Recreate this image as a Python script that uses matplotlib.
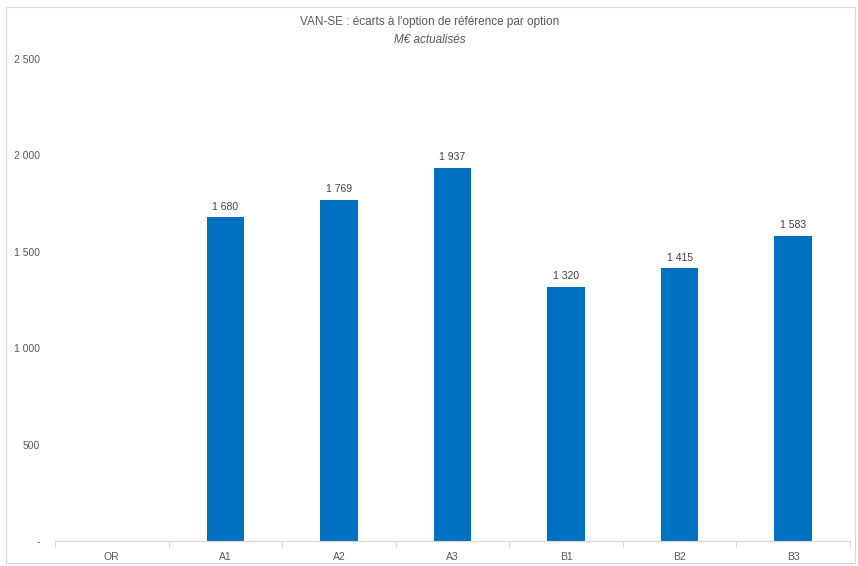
import matplotlib
matplotlib.use("Agg")
import matplotlib.pyplot as plt
from matplotlib.patches import Rectangle
from matplotlib.ticker import FixedLocator, NullFormatter

categories = ["OR", "A1", "A2", "A3", "B1", "B2", "B3"]
values = [0, 1680, 1769, 1937, 1320, 1415, 1583]
yticks = [0, 500, 1000, 1500, 2000, 2500]
ytick_labels = ["-", "500", "1 000", "1 500", "2 000", "2 500"]
title = "VAN-SE : écarts à l'option de référence par option"
subtitle = "M€ actualisés"

plt.rcParams['font.family'] = ['Liberation Sans Narrow', 'Liberation Sans', 'DejaVu Sans']
grey = "#595959"

fig = plt.figure(figsize=(8.58, 5.66), dpi=100)
fig.patches.append(Rectangle((6/858, 1 - 563/566), 849/858, 556/566, transform=fig.transFigure,
                             fill=False, edgecolor="#d9d9d9", linewidth=0.8))
ax = fig.add_axes([55/858, 1 - 541/566, 795/858, (541 - 59)/566])

x = list(range(len(categories)))
bars = ax.bar(x, values, width=0.33, color="#0070C0", zorder=2)
for xi, v in zip(x, values):
    if v > 0:
        ax.annotate(f"{v:,}".replace(",", " "), (xi, v), xytext=(0, 4), textcoords="offset points",
                    ha="center", va="bottom", fontsize=7.5, color="#404040")

ax.set_xlim(-0.5, len(categories) - 0.5)
ax.set_ylim(0, 2500)
ax.set_yticks(yticks)
ax.set_yticklabels(ytick_labels, fontsize=7.5, color=grey)
ax.tick_params(axis="y", length=0, pad=11)
ax.set_xticks(x)
ax.set_xticklabels(categories, fontsize=7.5, color=grey)
ax.tick_params(axis="x", which="major", length=0, pad=8)
ax.xaxis.set_minor_locator(FixedLocator([i - 0.5 for i in range(len(categories) + 1)]))
ax.xaxis.set_minor_formatter(NullFormatter())
ax.tick_params(axis="x", which="minor", length=4, color="#d9d9d9", width=0.8)
for s in ["top", "right", "left"]:
    ax.spines[s].set_visible(False)
ax.spines["bottom"].set_color("#d9d9d9")
ax.spines["bottom"].set_linewidth(0.8)

fig.text(430/858, 1 - 22/566, title, ha="center", va="center", fontsize=8.5, color=grey)
fig.text(430/858, 1 - 40/566, subtitle, ha="center", va="center", fontsize=8.5, color=grey, style="italic")

fig.savefig("out.png", dpi=100)
